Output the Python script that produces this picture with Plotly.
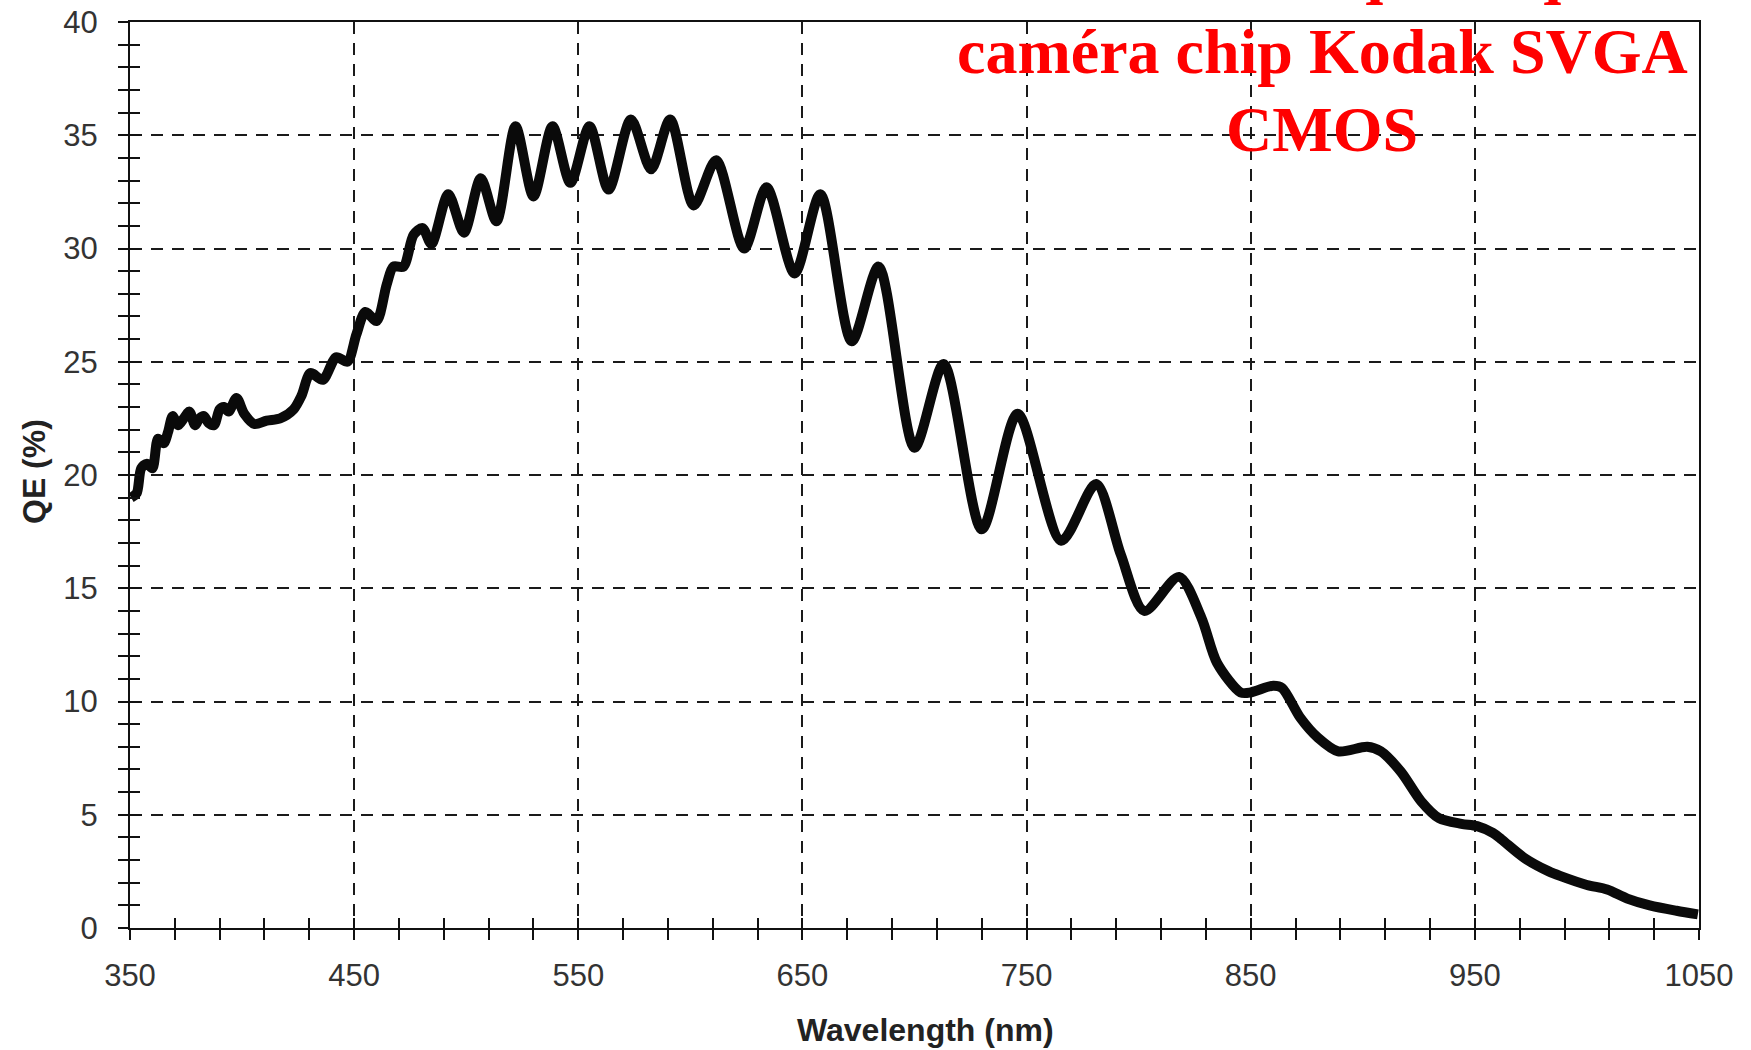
import plotly.graph_objects as go

# ---- data ----
wavelength_nm = [
    350.5, 353, 355, 357.5, 360, 362.5, 365, 367, 369, 371.5, 374, 376.5, 379, 381,
    383, 385, 387.5, 390, 392, 394, 397.5, 401, 405.5, 411, 417, 423, 426.5, 430.5,
    436, 442, 447, 451, 455, 460, 464.5, 467.5, 472, 476.5, 480.5, 484.5, 492, 499,
    506.5, 513.5, 522, 530, 538.5, 546.5, 555, 563.5, 573.5, 582.5, 591, 601.5,
    611.5, 624, 634, 646.5, 658, 672, 684, 700, 713, 730, 746, 765.5, 781, 792,
    802.5, 818, 828, 835, 845.5, 850, 860, 864, 872, 880, 889, 902, 908, 917, 926,
    934, 944, 951, 958, 962, 972, 983, 988, 1000, 1009, 1018, 1028, 1040, 1049.5,
]
qe_percent = [
    19.0, 19.2, 20.3, 20.5, 20.3, 21.6, 21.4, 21.9, 22.6, 22.2, 22.5, 22.8, 22.2, 22.5,
    22.6, 22.3, 22.2, 22.9, 23.0, 22.8, 23.4, 22.7, 22.25, 22.4, 22.5, 22.9, 23.5, 24.5,
    24.2, 25.2, 25.0, 26.2, 27.2, 26.8, 28.4, 29.2, 29.2, 30.6, 30.9, 30.2, 32.4, 30.7,
    33.1, 31.2, 35.4, 32.3, 35.4, 32.9, 35.4, 32.6, 35.7, 33.5, 35.7, 31.9,
    33.9, 30.0, 32.7, 28.9, 32.4, 25.9, 29.2, 21.2, 24.9, 17.6, 22.7, 17.1, 19.6, 16.5,
    14.0, 15.5, 13.7, 11.7, 10.4, 10.4, 10.7, 10.6, 9.3, 8.4, 7.8, 8.0, 7.8, 6.9, 5.6,
    4.85, 4.6, 4.5, 4.2, 3.9, 3.1, 2.5, 2.3, 1.9, 1.7, 1.3, 1.0, 0.76, 0.6,
]

x_tick_vals = [350, 450, 550, 650, 750, 850, 950, 1050]
x_tick_text = ["350", "450", "550", "650", "750", "850", "950", "1050"]
y_tick_vals = [0, 5, 10, 15, 20, 25, 30, 35, 40]
y_tick_text = ["0", "5", "10", "15", "20", "25", "30", "35", "40"]
x_range = [350, 1050]
y_range = [0, 40]
x_minor_step = 20
y_minor_step = 1

title_lines = ["Rendement quantique", "caméra chip Kodak SVGA", "CMOS"]
x_title = "Wavelength (nm)"
y_title = "QE (%)"

# ---- figure ----
W, H = 1751, 1050
ML, MR, MT, MB = 130, 52, 22, 122

fig = go.Figure()
fig.add_trace(go.Scatter(
    x=wavelength_nm, y=qe_percent, mode="lines",
    line=dict(color="#0a0a0a", width=10, shape="spline", smoothing=0.8),
    showlegend=False, hoverinfo="x+y",
))
# empty trace to carry the overlay axes (inside half of the crossing ticks)
fig.add_trace(go.Scatter(x=[], y=[], xaxis="x2", yaxis="y2", showlegend=False))

tickfont = dict(family="Liberation Sans, Arial", size=31, color="#333333")
grid = dict(showgrid=True, gridcolor="#1a1a1a", gridwidth=1.6, griddash="12px,9px")

fig.update_layout(
    width=W, height=H,
    margin=dict(l=ML, r=MR, t=MT, b=MB, pad=0, autoexpand=False),
    paper_bgcolor="white", plot_bgcolor="white",
    showlegend=False,
    xaxis=dict(
        range=x_range, tickmode="array", tickvals=x_tick_vals, ticktext=x_tick_text,
        ticks="outside", ticklen=10, tickwidth=2, tickcolor="#111",
        showline=True, linewidth=2, linecolor="#111", mirror=True, zeroline=False,
        tickfont=tickfont, ticklabelstandoff=9, automargin=False,
        minor=dict(tickmode="linear", tick0=x_range[0], dtick=x_minor_step,
                   ticks="outside", ticklen=10, tickwidth=2, tickcolor="#111", showgrid=False),
        **grid,
    ),
    yaxis=dict(
        range=y_range, tickmode="array", tickvals=y_tick_vals, ticktext=y_tick_text,
        ticks="outside", ticklen=10, tickwidth=2, tickcolor="#111",
        showline=True, linewidth=2, linecolor="#111", mirror=True, zeroline=False,
        tickfont=tickfont, ticklabelstandoff=14, automargin=False,
        minor=dict(tickmode="linear", tick0=y_range[0], dtick=y_minor_step,
                   ticks="outside", ticklen=10, tickwidth=2, tickcolor="#111", showgrid=False),
        **grid,
    ),
    xaxis2=dict(
        overlaying="x", anchor="y", side="bottom", range=x_range,
        tickmode="array", tickvals=x_tick_vals, automargin=False,
        ticks="inside", ticklen=10, tickwidth=2, tickcolor="#111",
        showticklabels=False, showgrid=False, showline=False, zeroline=False,
        minor=dict(tickmode="linear", tick0=x_range[0], dtick=x_minor_step,
                   ticks="inside", ticklen=10, tickwidth=2, tickcolor="#111", showgrid=False),
    ),
    yaxis2=dict(
        overlaying="y", anchor="x", side="left", range=y_range,
        tickmode="array", tickvals=y_tick_vals, automargin=False,
        ticks="inside", ticklen=10, tickwidth=2, tickcolor="#111",
        showticklabels=False, showgrid=False, showline=False, zeroline=False,
        minor=dict(tickmode="linear", tick0=y_range[0], dtick=y_minor_step,
                   ticks="inside", ticklen=10, tickwidth=2, tickcolor="#111", showgrid=False),
    ),
)

plot_w = W - ML - MR
plot_h = H - MT - MB

def px_to_paper_x(px):
    return (px - ML) / plot_w

def px_to_paper_y(py):
    return (H - MB - py) / plot_h

# red title (first line cropped by the top of the page, as in the reference)
title_font = dict(family="Liberation Serif, Times New Roman", size=64, color="#ff0000", weight="bold")
title_centers_y = [-30, 52, 129]
for line, cy in zip(title_lines, title_centers_y):
    fig.add_annotation(
        text=line, xref="paper", yref="paper",
        x=px_to_paper_x(1322), y=px_to_paper_y(cy),
        xanchor="center", yanchor="middle", showarrow=False, font=title_font,
    )

axis_title_font = dict(family="Liberation Sans, Arial", size=32, color="#222222", weight="bold")
fig.add_annotation(
    text=x_title, xref="paper", yref="paper",
    x=px_to_paper_x(925), y=px_to_paper_y(1030),
    xanchor="center", yanchor="middle", showarrow=False, font=axis_title_font,
)
fig.add_annotation(
    text=y_title, xref="paper", yref="paper",
    x=px_to_paper_x(34), y=px_to_paper_y(472), textangle=-90,
    xanchor="center", yanchor="middle", showarrow=False, font=axis_title_font,
)

fig.write_html("out.html")
